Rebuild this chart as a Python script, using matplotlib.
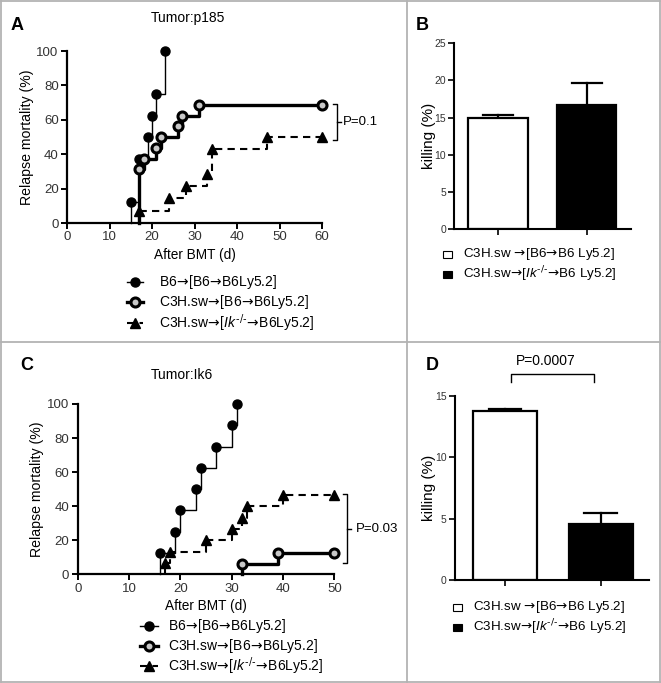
import matplotlib
matplotlib.use("Agg")
import matplotlib.pyplot as plt
from matplotlib.lines import Line2D
from matplotlib.patches import Rectangle

plt.rcParams['font.family'] = ['Liberation Sans', 'DejaVu Sans']
plt.rcParams['mathtext.fontset'] = 'custom'
plt.rcParams['mathtext.rm'] = 'DejaVu Sans'
plt.rcParams['mathtext.it'] = 'Liberation Sans:italic'

# ---------------- data ----------------
# Panel A  (Tumor:p185)
a_b6_t = [15, 17, 19, 20, 21, 23]
a_b6_y = [12.5, 37.5, 50, 62.5, 75, 100]
a_c3h_t = [17, 18, 21, 22, 26, 27, 31, 60]
a_c3h_y = [31.25, 37.5, 43.75, 50, 56.25, 62.5, 68.75, 68.75]
a_ik_t = [17, 24, 28, 33, 34, 47, 60]
a_ik_y = [7.14, 14.29, 21.43, 28.57, 42.86, 50, 50]
a_p = "P=0.1"

# Panel C  (Tumor:Ik6)
c_b6_t = [16, 19, 20, 23, 24, 27, 30, 31]
c_b6_y = [12.5, 25, 37.5, 50, 62.5, 75, 87.5, 100]
c_c3h_t = [32, 39, 50]
c_c3h_y = [6.25, 12.5, 12.5]
c_ik_t = [17, 18, 25, 30, 32, 33, 40, 50]
c_ik_y = [6.67, 13.33, 20, 26.67, 33.33, 40, 46.67, 46.67]
c_p = "P=0.03"

# Panels B and D (killing %)
b_vals = [15.0, 16.7]
b_err = [0.35, 3.0]
d_vals = [13.8, 4.55]
d_err = [0.1, 0.95]
d_p = "P=0.0007"

AR = r"$\!\rightarrow\!$"
IK = r"$\mathit{Ik}^{\text{-/-}}$"
km_labels = ["B6" + AR + "[B6" + AR + "B6Ly5.2]",
             "C3H.sw" + AR + "[B6" + AR + "B6Ly5.2]",
             "C3H.sw" + AR + "[" + IK + AR + "B6Ly5.2]"]
bar_labels = ["C3H.sw " + AR + "[B6" + AR + "B6 Ly5.2]",
              "C3H.sw" + AR + "[" + IK + AR + "B6 Ly5.2]"]

W, H = 661, 683
fig = plt.figure(figsize=(W / 100, H / 100), dpi=100)

def fr(x0, y0, x1, y1):
    # pixel box -> figure fraction rect
    return [x0 / W, 1 - y1 / H, (x1 - x0) / W, (y1 - y0) / H]

TICKC = '#333333'
styles = [dict(color='black', lw=1.0, marker='o', ms=6.5, mfc='black', mec='black', ls='-'),
          dict(color='black', lw=2.4, marker='o', ms=6.5, mfc='#c8c8c8', mec='black', mew=2.2, ls='-'),
          dict(color='black', lw=1.5, marker='^', ms=7.5, mfc='black', mec='black', ls=(0, (3.5, 2.5)))]

def km(ax, t, y, st):
    xs = [t[0]] + list(t)
    ys = [0] + list(y)
    ax.step(xs, ys, where='post', color=st['color'], lw=st['lw'], ls=st['ls'], clip_on=False, zorder=3)
    ax.plot(t, y, ls='none', marker=st['marker'], ms=st['ms'], mfc=st['mfc'], mec=st['mec'],
            mew=st.get('mew', 1.0), clip_on=False, zorder=4)

def style_km(ax, xmax, xstep):
    ax.set_ylim(0, 100)
    ax.set_xlim(0, xmax)
    ax.set_yticks(range(0, 101, 20))
    ax.set_xticks(range(0, xmax + 1, xstep))
    for s in ['top', 'right']:
        ax.spines[s].set_visible(False)
    for s in ['left', 'bottom']:
        ax.spines[s].set_linewidth(1.6)
    ax.tick_params(direction='out', length=4, width=1.4, labelsize=9.5, labelcolor=TICKC, pad=2)
    ax.set_ylabel("Relapse mortality (%)", fontsize=10.2, labelpad=2)
    ax.set_xlabel("After BMT (d)", fontsize=9.8, labelpad=3)

def bracket(ax, x0, x1, xtick, y_top, y_bot, xtext, label):
    ax.plot([x0, x1, x1, x0], [y_top, y_top, y_bot, y_bot], color='black', lw=1.0, clip_on=False)
    ym = (y_top + y_bot) / 2
    ax.plot([x1, xtick], [ym, ym], color='black', lw=1.0, clip_on=False)
    ax.text(xtext, ym, label, fontsize=9.5, va='center', ha='left')

# ---- Panel A
axA = fig.add_axes(fr(67, 51, 322, 223))
km(axA, a_b6_t, a_b6_y, styles[0])
km(axA, a_c3h_t, a_c3h_y, styles[1])
km(axA, a_ik_t, a_ik_y, styles[2])
style_km(axA, 60, 10)
axA.set_title("Tumor:p185", fontsize=10, pad=21, x=0.475)
bracket(axA, 62.6, 63.5, 64.4, 69.0, 48.3, 64.8, a_p)

# ---- Panel C
axC = fig.add_axes(fr(77.7, 404, 334.3, 574.3))
km(axC, c_b6_t, c_b6_y, styles[0])
km(axC, c_c3h_t, c_c3h_y, styles[1])
km(axC, c_ik_t, c_ik_y, styles[2])
style_km(axC, 50, 10)
axC.set_title("Tumor:Ik6", fontsize=10, pad=18, x=0.405)
bracket(axC, 51.7, 52.4, 53.3, 47.0, 6.5, 54.2, c_p)

# ---- bar panels
def bars(ax, vals, errs, ymax, ystep):
    ax.bar([0, 1], vals, width=0.67, color=['white', 'black'], edgecolor='black', linewidth=1.6, zorder=2)
    for i, (v, e) in enumerate(zip(vals, errs)):
        ax.plot([i, i], [v, v + e], color='black', lw=1.6, zorder=1)
        ax.plot([i - 0.17, i + 0.17], [v + e, v + e], color='black', lw=1.6, zorder=1)
    ax.set_ylim(0, ymax)
    ax.set_yticks(range(0, ymax + 1, ystep))
    ax.set_xticks([0, 1])
    ax.set_xticklabels(['', ''])
    for s in ['top', 'right']:
        ax.spines[s].set_visible(False)
    for s in ['left', 'bottom']:
        ax.spines[s].set_linewidth(1.5)
    ax.tick_params(direction='out', length=4, width=1.2, labelsize=7.5, labelcolor=TICKC, pad=2)
    for lab in ax.get_yticklabels():
        lab.set_family(['Liberation Sans Narrow', 'Liberation Sans'])
    ax.set_ylabel("killing (%)", fontsize=11, labelpad=-1)

axB = fig.add_axes(fr(454.3, 43.3, 631, 229.3))
bars(axB, b_vals, b_err, 25, 5)
axB.set_xlim(-0.49, 1.5)

axD = fig.add_axes(fr(455, 396, 649.3, 580))
bars(axD, d_vals, d_err, 15, 5)
axD.set_xlim(-0.52, 1.506)
axD.plot([0.063, 0.063, 0.932, 0.932], [16.15, 16.8, 16.8, 16.15], color='black', lw=1.0, clip_on=False)
axD.text(0.425, 17.25, d_p, fontsize=10, ha='center', va='bottom')

# ---- overlay in pixel coords (frames, panel letters, legends)
ov = fig.add_axes([0, 0, 1, 1], zorder=-1)
ov.set_xlim(0, W)
ov.set_ylim(H, 0)
ov.axis('off')
gc = '#b3b3b3'
for seg in [([1, 659.5], [1, 1]), ([1, 659.5], [681.5, 681.5]), ([1, 1], [1, 681.5]),
            ([659.5, 659.5], [1, 681.5]), ([406.5, 406.5], [1, 681.5]), ([1, 659.5], [342.3, 342.3])]:
    ov.plot(seg[0], seg[1], color=gc, lw=1.3)

for lab, x, y in [("A", 17, 25), ("B", 422, 25), ("C", 27, 365), ("D", 432, 365)]:
    ov.text(x, y, lab, fontsize=13, fontweight='bold', ha='center', va='center')

ov2 = fig.add_axes([0, 0, 1, 1], zorder=5)
ov2.set_xlim(0, W)
ov2.set_ylim(H, 0)
ov2.axis('off')

def km_legend(x0, x1, xt, ys):
    for st, lab, y in zip(styles, km_labels, ys):
        ov2.add_line(Line2D([x0, x1], [y, y], color='black', lw=st['lw'], ls=st['ls'],
                            marker=None))
        ov2.plot([(x0 + x1) / 2], [y], marker=st['marker'], ms=st['ms'], mfc=st['mfc'],
                 mec=st['mec'], mew=st.get('mew', 1.0), ls='none')
        ov2.text(xt, y, lab, fontsize=10, va='center', ha='left')

km_legend(127, 143, 159, [282, 302, 323])
km_legend(140, 158, 168, [626, 646, 666])

def bar_legend(xs, xt, ys):
    for fc, lab, y in zip(['white', 'black'], bar_labels, ys):
        ov2.add_patch(Rectangle((xs - 4.5, y - 3.5), 9, 7, facecolor=fc, edgecolor='black', lw=0.8))
        ov2.text(xt, y, lab, fontsize=9.6, va='center', ha='left')

bar_legend(447, 463, [254, 274])
bar_legend(457, 473, [607, 627])

fig.savefig("out.png", dpi=100)
